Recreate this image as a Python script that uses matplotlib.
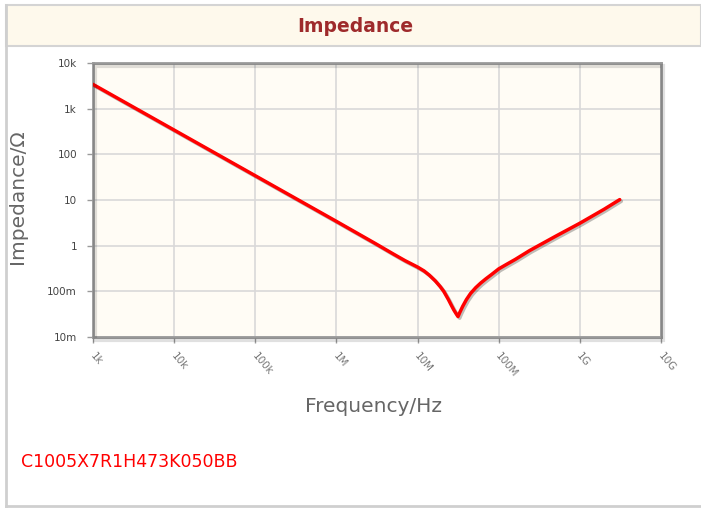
import matplotlib
matplotlib.use("Agg")
import matplotlib.pyplot as plt
import matplotlib.patheffects as pe
from matplotlib.patches import Rectangle
from matplotlib.lines import Line2D

# ---- data ----
freq_hz = [1e3, 1e4, 1e5, 1e6, 3e6, 5e6, 7e6, 1e7, 1.2e7, 1.4e7, 1.65e7, 1.9e7,
           2.1e7, 2.4e7, 2.6e7, 2.8e7, 3.0e7, 3.15e7, 3.3e7, 3.6e7, 4.0e7,
           4.5e7, 5.2e7, 6.0e7, 7.0e7, 8.2e7, 1.0e8, 1.25e8, 1.6e8, 2.4e8,
           5e8, 1e9, 2e9, 3.1e9]
impedance_ohm = [3400, 340, 34, 3.4, 1.12, 0.66, 0.47, 0.34, 0.28, 0.225, 0.17, 0.127,
                 0.1, 0.066, 0.05, 0.039, 0.032, 0.028, 0.034, 0.047, 0.066,
                 0.09, 0.12, 0.152, 0.19, 0.235, 0.31, 0.39, 0.5, 0.78,
                 1.6, 3.1, 6.3, 10.2]
x_ticks = [1e3, 1e4, 1e5, 1e6, 1e7, 1e8, 1e9, 1e10]
x_tick_labels = ["1k", "10k", "100k", "1M", "10M", "100M", "1G", "10G"]
y_ticks = [1e-2, 1e-1, 1, 10, 100, 1e3, 1e4]
y_tick_labels = ["10m", "100m", "1", "10", "100", "1k", "10k"]
title = "Impedance"
x_label = "Frequency/Hz"
y_label = "Impedance/Ω"
part_number = "C1005X7R1H473K050BB"

W, H = 701, 509
fig = plt.figure(figsize=(W / 100, H / 100), dpi=100)
fig.patch.set_facecolor("white")

def fx(px):
    return px / W

def fy(py):
    return 1 - py / H

# card borders and header
fig.add_artist(Rectangle((fx(6), fy(46)), fx(701 - 6), (46 - 5) / H,
                         transform=fig.transFigure, facecolor="#FEF9EC",
                         edgecolor="#d4d4d4", linewidth=1.5))
fig.add_artist(Line2D([fx(6), fx(6)], [fy(5), fy(506)], transform=fig.transFigure,
                      color="#cfcfcf", linewidth=2))
fig.add_artist(Line2D([fx(6), fx(701)], [fy(506), fy(506)], transform=fig.transFigure,
                      color="#cfcfcf", linewidth=2))
fig.text(fx(355), fy(27), title, ha="center", va="center", fontsize=13.5,
         fontweight="bold", color="#9E2A2B", family="DejaVu Sans")

# plot area
left, right, top, bottom = 93, 661, 63, 337
# frame shadow
fig.add_artist(Rectangle((fx(left + 2), fy(bottom + 3)), (right - left) / W, (bottom - top) / H,
                         transform=fig.transFigure, facecolor="none",
                         edgecolor="#000000", alpha=0.12, linewidth=3))
ax = fig.add_axes([fx(left), fy(bottom), (right - left) / W, (bottom - top) / H])
ax.set_facecolor("#FFFCF5")
ax.set_xscale("log")
ax.set_yscale("log")
ax.set_xlim(1e3, 1e10)
ax.set_ylim(1e-2, 1e4)

ax.plot(freq_hz, impedance_ohm, color="#FF0000", linewidth=2.5,
        solid_joinstyle="round", solid_capstyle="round",
        path_effects=[pe.SimpleLineShadow(offset=(1.2, -1.2), shadow_color="black", alpha=0.25),
                      pe.Normal()], zorder=3)

ax.set_xticks(x_ticks)
ax.set_xticklabels([])
ax.set_yticks(y_ticks)
ax.set_yticklabels(y_tick_labels)
ax.minorticks_off()
ax.grid(True, which="major", color="#d9d9d9", linewidth=1.2)
ax.set_axisbelow(True)
for s in ax.spines.values():
    s.set_color("#9a9a9a")
    s.set_linewidth(2)
ax.tick_params(axis="y", direction="out", length=4.5, width=1, color="#9a9a9a",
               labelsize=7.5, labelcolor="#444444", pad=7)
ax.tick_params(axis="x", direction="out", length=4.5, width=1, color="#9a9a9a")

for xv, lab in zip(x_ticks, x_tick_labels):
    ax.annotate(lab, xy=(xv, 1e-2), xycoords="data", xytext=(-1, -12),
                textcoords="offset points", rotation=-50, rotation_mode="anchor",
                ha="left", va="center", fontsize=7.5, color="#777777",
                annotation_clip=False)

fig.text(fx(374), fy(407), x_label, ha="center", va="center", fontsize=14.5,
         color="#666666")
fig.text(fx(18), fy(197), y_label, ha="center", va="center", fontsize=14.5,
         color="#666666", rotation=90)

fig.text(fx(21), fy(462), part_number, ha="left", va="center", fontsize=12.5,
         color="#FF0000")

fig.savefig("out.png", dpi=100, facecolor="white")
